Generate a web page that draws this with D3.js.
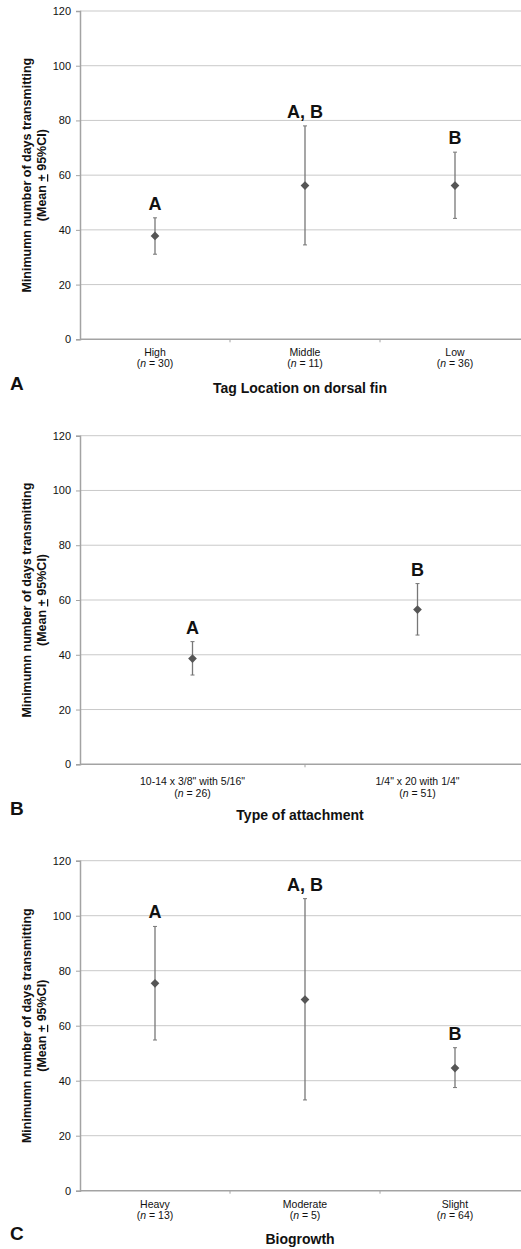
<!DOCTYPE html>
<html>
<head>
<meta charset="utf-8">
<script src="https://cdn.jsdelivr.net/npm/d3@7"></script>
<style>
  body { margin: 0; background: #fff; }
  svg { display: block; font-family: "Liberation Sans", Arial, sans-serif; }
</style>
</head>
<body>
<div id="chart"></div>
<script>
// panel A - tag location
var catsA = ["High", "Middle", "Low"];
var nA = [30, 11, 36];
var meanA = [37.8, 56.2, 56.2];
var lowA = [31.1, 34.5, 44.2];
var highA = [44.4, 78.0, 68.4];
var sigA = ["A", "A, B", "B"];

// panel B - attachment type
var catsB = ["10-14 x 3/8\" with 5/16\"", "1/4\" x 20 with 1/4\""];
var nB = [26, 51];
var meanB = [38.6, 56.5];
var lowB = [32.6, 47.2];
var highB = [44.8, 66.0];
var sigB = ["A", "B"];

// panel C - biogrowth
var catsC = ["Heavy", "Moderate", "Slight"];
var nC = [13, 5, 64];
var meanC = [75.4, 69.5, 44.6];
var lowC = [54.8, 33.0, 37.5];
var highC = [96.1, 106.2, 52.0];
var sigC = ["A", "A, B", "B"];

var yTicks = [0, 20, 40, 60, 80, 100, 120];

var W = 521, H = 1249;
var svg = d3.select("#chart").append("svg")
        .attr("width", W)
        .attr("height", H);

function panel(opt) {
    var left = 80, right = 530;
    var top = opt.top, bottom = opt.bottom;

    var x = d3.scaleBand().domain(opt.cats).range([left, right]).padding(0);
    var y = d3.scaleLinear().domain([0, 120]).range([bottom, top]);

    var g = svg.append("g");

    // gridlines
    g.selectAll(".grid")
            .data(yTicks.filter(function (d) { return d > 0; }))
            .enter().append("line")
            .attr("x1", left).attr("x2", right)
            .attr("y1", function (d) { return y(d); })
            .attr("y2", function (d) { return y(d); })
            .attr("stroke", "#c9c9c9")
            .attr("stroke-width", 1);

    // y axis
    var yAxis = g.append("g")
            .attr("transform", "translate(" + left + ",0)")
            .call(d3.axisLeft(y).tickValues(yTicks).tickSize(4).tickPadding(5));
    yAxis.select(".domain").attr("stroke", "#a3a3a3").attr("stroke-width", 1.5);
    yAxis.selectAll(".tick line").attr("stroke", "#a3a3a3");
    yAxis.selectAll(".tick text")
            .attr("font-size", 11)
            .attr("font-family", "Liberation Sans, Arial, sans-serif")
            .attr("fill", "#111");

    // x axis line + boundary ticks
    g.append("line")
            .attr("x1", left).attr("x2", right)
            .attr("y1", bottom).attr("y2", bottom)
            .attr("stroke", "#a3a3a3").attr("stroke-width", 1.5);
    g.selectAll(".xtick")
            .data(opt.cats.slice(1))
            .enter().append("line")
            .attr("x1", function (d) { return x(d); })
            .attr("x2", function (d) { return x(d); })
            .attr("y1", bottom).attr("y2", bottom + 3)
            .attr("stroke", "#a3a3a3");

    // category labels
    var lab = g.selectAll(".cat")
            .data(opt.cats)
            .enter().append("text")
            .attr("text-anchor", "middle")
            .attr("font-size", 10.5)
            .attr("fill", "#111");
    lab.append("tspan")
            .attr("x", function (d) { return x(d) + x.bandwidth() / 2; })
            .attr("y", bottom + opt.lab1)
            .text(function (d) { return d; });
    var l2 = lab.append("tspan")
            .attr("x", function (d) { return x(d) + x.bandwidth() / 2; })
            .attr("y", bottom + opt.lab2);
    l2.append("tspan").text("(");
    l2.append("tspan").attr("font-style", "italic").text("n");
    l2.append("tspan").text(function (d, i) { return " = " + opt.n[i] + ")"; });

    // error bars
    var pts = opt.cats.map(function (c, i) {
        return {c: c, m: opt.mean[i], lo: opt.low[i], hi: opt.high[i], s: opt.sig[i]};
    });
    var cx = function (d) { return x(d.c) + x.bandwidth() / 2; };

    g.selectAll(".eb")
            .data(pts)
            .enter().append("line")
            .attr("x1", cx).attr("x2", cx)
            .attr("y1", function (d) { return y(d.lo); })
            .attr("y2", function (d) { return y(d.hi); })
            .attr("stroke", "#777").attr("stroke-width", 1.3);
    ["lo", "hi"].forEach(function (k) {
        g.selectAll(".cap-" + k)
                .data(pts)
                .enter().append("line")
                .attr("x1", function (d) { return cx(d) - 2; })
                .attr("x2", function (d) { return cx(d) + 2; })
                .attr("y1", function (d) { return y(d[k]); })
                .attr("y2", function (d) { return y(d[k]); })
                .attr("stroke", "#777").attr("stroke-width", 1);
    });

    // diamonds
    g.selectAll(".pt")
            .data(pts)
            .enter().append("path")
            .attr("d", d3.symbol().type(d3.symbolSquare).size(38))
            .attr("transform", function (d) {
                return "translate(" + cx(d) + "," + y(d.m) + ") rotate(45)";
            })
            .attr("fill", "#555");

    // significance letters
    g.selectAll(".sig")
            .data(pts)
            .enter().append("text")
            .attr("x", cx)
            .attr("y", function (d) { return y(d.hi) - 8; })
            .attr("text-anchor", "middle")
            .attr("font-size", 18)
            .attr("font-weight", "bold")
            .attr("fill", "#111")
            .text(function (d) { return d.s; });

    // y title (two lines)
    var mid = (top + bottom) / 2;
    g.append("text")
            .attr("transform", "translate(31," + mid + ") rotate(-90)")
            .attr("text-anchor", "middle")
            .attr("font-size", 12.5)
            .attr("font-weight", "bold")
            .attr("fill", "#111")
            .text("Minimumn number of days transmitting");
    var t2 = g.append("text")
            .attr("transform", "translate(46," + mid + ") rotate(-90)")
            .attr("text-anchor", "middle")
            .attr("font-size", 12.5)
            .attr("font-weight", "bold")
            .attr("fill", "#111");
    t2.append("tspan").text("(Mean ");
    t2.append("tspan").attr("text-decoration", "underline").text("+");
    t2.append("tspan").text(" 95%CI)");

    // x title
    g.append("text")
            .attr("x", 300)
            .attr("y", bottom + opt.titleDy)
            .attr("text-anchor", "middle")
            .attr("font-size", 14)
            .attr("font-weight", "bold")
            .attr("fill", "#111")
            .text(opt.title);

    // panel letter
    g.append("text")
            .attr("x", 10)
            .attr("y", bottom + opt.letterDy)
            .attr("font-size", 19)
            .attr("font-weight", "bold")
            .attr("fill", "#111")
            .text(opt.letter);
}

panel({cats: catsA, n: nA, mean: meanA, low: lowA, high: highA, sig: sigA,
    top: 11, bottom: 339.3, lab1: 17, lab2: 27.5, titleDy: 53.7, letterDy: 50.7,
    title: "Tag Location on dorsal fin", letter: "A"});
panel({cats: catsB, n: nB, mean: meanB, low: lowB, high: highB, sig: sigB,
    top: 435.7, bottom: 764.3, lab1: 21, lab2: 32.5, titleDy: 55.2, letterDy: 50.7,
    title: "Type of attachment", letter: "B"});
panel({cats: catsC, n: nC, mean: meanC, low: lowC, high: highC, sig: sigC,
    top: 860.7, bottom: 1190.7, lab1: 17.5, lab2: 28.5, titleDy: 53, letterDy: 49,
    title: "Biogrowth", letter: "C"});
</script>
</body>
</html>
